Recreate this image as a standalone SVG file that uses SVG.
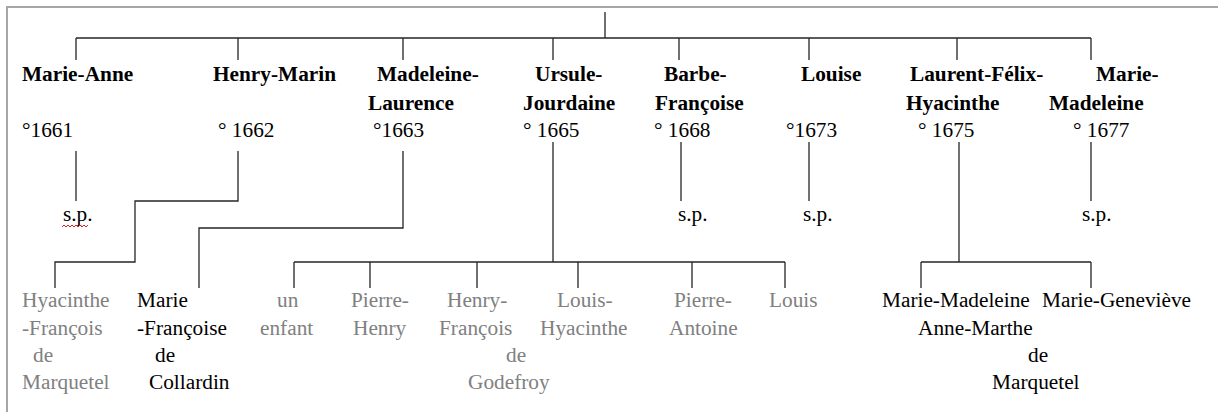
<svg xmlns="http://www.w3.org/2000/svg" width="1218" height="412" viewBox="0 0 1218 412">
<style>
text{font-family:'Liberation Serif','Times New Roman',Times,'DejaVu Serif',serif;font-size:21.3px;fill:#000}
.b{font-weight:bold}
.g{fill:#808080}
.ln{fill:none;stroke:#262626;stroke-width:1.3}
</style>
<rect width="1218" height="412" fill="#fff"/>
<path d="M7,412 V7 H1218" fill="none" stroke="#a6a6a6" stroke-width="2"/>
<g id="connectors" class="ln">
<path d="M605,12 V38 M76,38 H1091 M76,38 V60 M238,38 V60 M403,38 V60 M553,38 V60 M679,38 V60 M809,38 V60 M957,38 V60 M1091,38 V60"/>
<path d="M76,151 V201"/>
<path d="M238,151 V201 H135 V262 H55 V288"/>
<path d="M403,151 V228 H199 V288"/>
<path d="M553,142 V262 M294,262 H785 M294,262 V288 M370,262 V288 M477,262 V288 M578,262 V288 M692,262 V288 M785,262 V288"/>
<path d="M681,142 V201"/>
<path d="M809,142 V201"/>
<path d="M959,142 V262 M921,262 H1091 M921,262 V288 M1091,262 V288"/>
<path d="M1091,142 V201"/>
</g>
<g id="marie-anne"><text class="b" x="22" y="81">Marie-Anne</text><text x="22" y="137">°1661</text></g>
<g id="marie-anne-sp"><text x="63" y="221">s.p.</text><path d="M62,227 l2,-2 2,2 2,-2 2,2 2,-2 2,2 2,-2 2,2 2,-2 2,2 2,-2 2,2 2,-2" fill="none" stroke="#e02020" stroke-width="1"/></g>
<g id="henry-marin"><text class="b" x="213" y="81">Henry-Marin</text><text x="218" y="137">° 1662</text></g>
<g id="madeleine-laurence"><text class="b" x="377" y="81">Madeleine-</text><text class="b" x="368" y="110">Laurence</text><text x="373" y="137">°1663</text></g>
<g id="ursule-jourdaine"><text class="b" x="535" y="81">Ursule-</text><text class="b" x="523" y="110">Jourdaine</text><text x="523" y="137">° 1665</text></g>
<g id="barbe-francoise"><text class="b" x="664" y="81">Barbe-</text><text class="b" x="655" y="110">Françoise</text><text x="654" y="137">° 1668</text></g>
<g id="barbe-sp"><text x="678" y="221">s.p.</text></g>
<g id="louise"><text class="b" x="801" y="81">Louise</text><text x="786" y="137">°1673</text></g>
<g id="louise-sp"><text x="803" y="221">s.p.</text></g>
<g id="laurent-felix-hyacinthe"><text class="b" x="910" y="81">Laurent-Félix-</text><text class="b" x="906" y="110">Hyacinthe</text><text x="918" y="137">° 1675</text></g>
<g id="marie-madeleine"><text class="b" x="1096" y="81">Marie-</text><text class="b" x="1049" y="110">Madeleine</text><text x="1073" y="137">° 1677</text></g>
<g id="marie-madeleine-sp"><text x="1082" y="221">s.p.</text></g>
<g id="hyacinthe-francois"><text class="g" x="22" y="307">Hyacinthe</text><text class="g" x="22" y="335">-François</text><text class="g" x="33" y="362">de</text><text class="g" x="22" y="389">Marquetel</text></g>
<g id="marie-francoise"><text x="137" y="307">Marie</text><text x="137" y="335">-Françoise</text><text x="155" y="362">de</text><text x="149" y="389">Collardin</text></g>
<g id="un-enfant"><text class="g" x="277" y="307">un</text><text class="g" x="260" y="335">enfant</text></g>
<g id="pierre-henry"><text class="g" x="351" y="307">Pierre-</text><text class="g" x="353" y="335">Henry</text></g>
<g id="henry-francois"><text class="g" x="447" y="307">Henry-</text><text class="g" x="439" y="335">François</text><text class="g" x="506" y="362">de</text><text class="g" x="468" y="389">Godefroy</text></g>
<g id="louis-hyacinthe"><text class="g" x="557" y="307">Louis-</text><text class="g" x="540" y="335">Hyacinthe</text></g>
<g id="pierre-antoine"><text class="g" x="674" y="307">Pierre-</text><text class="g" x="669" y="335">Antoine</text></g>
<g id="louis"><text class="g" x="769" y="307">Louis</text></g>
<g id="marie-madeleine-anne-marthe"><text x="882" y="307">Marie-Madeleine</text><text x="918" y="335">Anne-Marthe</text><text x="1028" y="362">de</text><text x="992" y="389">Marquetel</text></g>
<g id="marie-genevieve"><text x="1042" y="307">Marie-Geneviève</text></g>
</svg>
